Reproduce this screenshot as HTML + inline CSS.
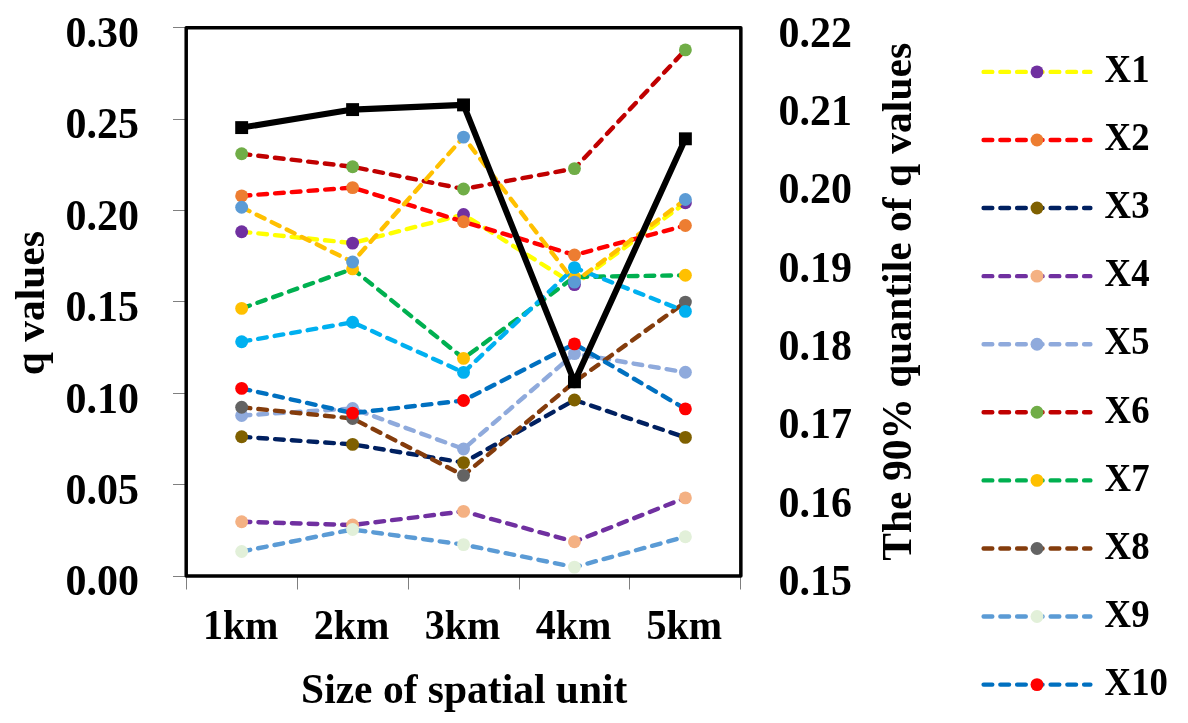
<!DOCTYPE html>
<html lang="en"><head><meta charset="utf-8"><title>q values by size of spatial unit</title>
<style>html,body{margin:0;padding:0;background:#fff}body{width:1188px;height:723px;overflow:hidden}svg{display:block}text{font-family:"Liberation Serif", "Times New Roman", serif;font-weight:bold;fill:#000}</style></head><body>
<svg width="1188" height="723" viewBox="0 0 1188 723">
<rect width="1188" height="723" fill="#fff"/>
<g stroke="#7f7f7f" stroke-width="1" fill="none">
<line x1="173" y1="576.5" x2="186.20" y2="576.5"/>
<line x1="173" y1="484.5" x2="186.20" y2="484.5"/>
<line x1="173" y1="393.5" x2="186.20" y2="393.5"/>
<line x1="173" y1="301.5" x2="186.20" y2="301.5"/>
<line x1="173" y1="210.5" x2="186.20" y2="210.5"/>
<line x1="173" y1="119.5" x2="186.20" y2="119.5"/>
<line x1="173" y1="27.5" x2="186.20" y2="27.5"/>
<line x1="186.5" y1="576.10" x2="186.5" y2="589.5"/>
<line x1="297.5" y1="576.10" x2="297.5" y2="589.5"/>
<line x1="408.5" y1="576.10" x2="408.5" y2="589.5"/>
<line x1="519.5" y1="576.10" x2="519.5" y2="589.5"/>
<line x1="629.5" y1="576.10" x2="629.5" y2="589.5"/>
<line x1="740.5" y1="576.10" x2="740.5" y2="589.5"/>
</g>
<g fill="none" stroke-linecap="round" stroke-linejoin="round" stroke-width="4.4" stroke-dasharray="8.7 8.05">
<polyline stroke="#FFFF00" points="241.66,231.70 352.60,243.10 463.53,214.50 574.46,284.60 685.39,202.80"/>
<g stroke="none" fill="#7030A0"><circle cx="241.66" cy="231.70" r="6.45"/><circle cx="352.60" cy="243.10" r="6.45"/><circle cx="463.53" cy="214.50" r="6.45"/><circle cx="574.46" cy="284.60" r="6.45"/><circle cx="685.39" cy="202.80" r="6.45"/></g>
<polyline stroke="#FF0000" points="241.66,195.90 352.60,187.60 463.53,221.70 574.46,255.00 685.39,225.50"/>
<g stroke="none" fill="#ED7D31"><circle cx="241.66" cy="195.90" r="6.45"/><circle cx="352.60" cy="187.60" r="6.45"/><circle cx="463.53" cy="221.70" r="6.45"/><circle cx="574.46" cy="255.00" r="6.45"/><circle cx="685.39" cy="225.50" r="6.45"/></g>
<polyline stroke="#002060" points="241.66,436.80 352.60,444.40 463.53,462.60 574.46,400.00 685.39,437.40"/>
<g stroke="none" fill="#7F6000"><circle cx="241.66" cy="436.80" r="6.45"/><circle cx="352.60" cy="444.40" r="6.45"/><circle cx="463.53" cy="462.60" r="6.45"/><circle cx="574.46" cy="400.00" r="6.45"/><circle cx="685.39" cy="437.40" r="6.45"/></g>
<polyline stroke="#7030A0" points="241.66,521.80 352.60,525.00 463.53,511.40 574.46,541.70 685.39,497.90"/>
<g stroke="none" fill="#F4B183"><circle cx="241.66" cy="521.80" r="6.45"/><circle cx="352.60" cy="525.00" r="6.45"/><circle cx="463.53" cy="511.40" r="6.45"/><circle cx="574.46" cy="541.70" r="6.45"/><circle cx="685.39" cy="497.90" r="6.45"/></g>
<polyline stroke="#8FAADC" points="241.66,415.50 352.60,408.50 463.53,449.00 574.46,353.60 685.39,372.30"/>
<g stroke="none" fill="#8FAADC"><circle cx="241.66" cy="415.50" r="6.45"/><circle cx="352.60" cy="408.50" r="6.45"/><circle cx="463.53" cy="449.00" r="6.45"/><circle cx="574.46" cy="353.60" r="6.45"/><circle cx="685.39" cy="372.30" r="6.45"/></g>
<polyline stroke="#C00000" points="241.66,153.80 352.60,166.80 463.53,189.00 574.46,168.60 685.39,49.90"/>
<g stroke="none" fill="#70AD47"><circle cx="241.66" cy="153.80" r="6.45"/><circle cx="352.60" cy="166.80" r="6.45"/><circle cx="463.53" cy="189.00" r="6.45"/><circle cx="574.46" cy="168.60" r="6.45"/><circle cx="685.39" cy="49.90" r="6.45"/></g>
<polyline stroke="#00B050" points="241.66,308.40 352.60,268.90 463.53,358.40 574.46,277.00 685.39,275.30"/>
<g stroke="none" fill="#FFC000"><circle cx="241.66" cy="308.40" r="6.45"/><circle cx="352.60" cy="268.90" r="6.45"/><circle cx="463.53" cy="358.40" r="6.45"/><circle cx="574.46" cy="277.00" r="6.45"/><circle cx="685.39" cy="275.30" r="6.45"/></g>
<polyline stroke="#843C0C" points="241.66,407.30 352.60,418.50 463.53,475.40 574.46,381.90 685.39,302.10"/>
<g stroke="none" fill="#636363"><circle cx="241.66" cy="407.30" r="6.45"/><circle cx="352.60" cy="418.50" r="6.45"/><circle cx="463.53" cy="475.40" r="6.45"/><circle cx="574.46" cy="381.90" r="6.45"/><circle cx="685.39" cy="302.10" r="6.45"/></g>
<polyline stroke="#5B9BD5" points="241.66,551.50 352.60,529.50 463.53,544.60 574.46,567.10 685.39,536.70"/>
<g stroke="none" fill="#E2F0D9"><circle cx="241.66" cy="551.50" r="6.45"/><circle cx="352.60" cy="529.50" r="6.45"/><circle cx="463.53" cy="544.60" r="6.45"/><circle cx="574.46" cy="567.10" r="6.45"/><circle cx="685.39" cy="536.70" r="6.45"/></g>
<polyline stroke="#0070C0" points="241.66,388.40 352.60,413.10 463.53,400.50 574.46,343.90 685.39,408.90"/>
<g stroke="none" fill="#FF0000"><circle cx="241.66" cy="388.40" r="6.45"/><circle cx="352.60" cy="413.10" r="6.45"/><circle cx="463.53" cy="400.50" r="6.45"/><circle cx="574.46" cy="343.90" r="6.45"/><circle cx="685.39" cy="408.90" r="6.45"/></g>
<polyline stroke="#00B0F0" points="241.66,341.70 352.60,322.30 463.53,372.40 574.46,267.60 685.39,311.40"/>
<g stroke="none" fill="#00B0F0"><circle cx="241.66" cy="341.70" r="6.45"/><circle cx="352.60" cy="322.30" r="6.45"/><circle cx="463.53" cy="372.40" r="6.45"/><circle cx="574.46" cy="267.60" r="6.45"/><circle cx="685.39" cy="311.40" r="6.45"/></g>
<polyline stroke="#FFC000" points="241.66,207.30 352.60,262.00 463.53,137.10 574.46,282.10 685.39,199.50"/>
<g stroke="none" fill="#5B9BD5"><circle cx="241.66" cy="207.30" r="6.45"/><circle cx="352.60" cy="262.00" r="6.45"/><circle cx="463.53" cy="137.10" r="6.45"/><circle cx="574.46" cy="282.10" r="6.45"/><circle cx="685.39" cy="199.50" r="6.45"/></g>
</g>
<polyline fill="none" stroke="#000" stroke-width="6.1" stroke-linejoin="round" stroke-linecap="round" points="241.66,127.60 352.60,109.60 463.53,104.90 574.46,381.80 685.39,138.80"/>
<g fill="#000"><rect x="235.22" y="121.15" width="12.9" height="12.9"/><rect x="346.15" y="103.15" width="12.9" height="12.9"/><rect x="457.08" y="98.45" width="12.9" height="12.9"/><rect x="568.00" y="375.35" width="12.9" height="12.9"/><rect x="678.94" y="132.35" width="12.9" height="12.9"/></g>
<rect x="186.20" y="27.70" width="554.65" height="548.40" fill="none" stroke="#000" stroke-width="3.5" stroke-linejoin="round"/>
<text transform="translate(138.90,595.30) scale(1.0120,1.0600)" font-size="41.5" text-anchor="end">0.00</text>
<text transform="translate(138.90,503.90) scale(1.0120,1.0600)" font-size="41.5" text-anchor="end">0.05</text>
<text transform="translate(138.90,412.50) scale(1.0120,1.0600)" font-size="41.5" text-anchor="end">0.10</text>
<text transform="translate(138.90,321.10) scale(1.0120,1.0600)" font-size="41.5" text-anchor="end">0.15</text>
<text transform="translate(138.90,229.70) scale(1.0120,1.0600)" font-size="41.5" text-anchor="end">0.20</text>
<text transform="translate(138.90,138.30) scale(1.0120,1.0600)" font-size="41.5" text-anchor="end">0.25</text>
<text transform="translate(138.90,46.90) scale(1.0120,1.0600)" font-size="41.5" text-anchor="end">0.30</text>
<text transform="translate(778.50,595.10) scale(1.0120,1.0600)" font-size="41.5">0.15</text>
<text transform="translate(778.50,516.76) scale(1.0120,1.0600)" font-size="41.5">0.16</text>
<text transform="translate(778.50,438.41) scale(1.0120,1.0600)" font-size="41.5">0.17</text>
<text transform="translate(778.50,360.07) scale(1.0120,1.0600)" font-size="41.5">0.18</text>
<text transform="translate(778.50,281.73) scale(1.0120,1.0600)" font-size="41.5">0.19</text>
<text transform="translate(778.50,203.39) scale(1.0120,1.0600)" font-size="41.5">0.20</text>
<text transform="translate(778.50,125.04) scale(1.0120,1.0600)" font-size="41.5">0.21</text>
<text transform="translate(778.50,46.70) scale(1.0120,1.0600)" font-size="41.5">0.22</text>
<text transform="translate(240.66,639.20) scale(1.0000,1.0500)" font-size="40" text-anchor="middle">1km</text>
<text transform="translate(351.60,639.20) scale(1.0000,1.0500)" font-size="40" text-anchor="middle">2km</text>
<text transform="translate(462.53,639.20) scale(1.0000,1.0500)" font-size="40" text-anchor="middle">3km</text>
<text transform="translate(573.46,639.20) scale(1.0000,1.0500)" font-size="40" text-anchor="middle">4km</text>
<text transform="translate(684.39,639.20) scale(1.0000,1.0500)" font-size="40" text-anchor="middle">5km</text>
<text x="464.2" y="703" font-size="41.5" text-anchor="middle">Size of spatial unit</text>
<text transform="translate(43.8,303.2) rotate(-90)" font-size="41.5" text-anchor="middle">q values</text>
<text transform="translate(911,301.8) rotate(-90)" font-size="41.5" text-anchor="middle">The 90% quantile of q values</text>
<g fill="none" stroke-linecap="round" stroke-width="4.4" stroke-dasharray="8.7 8.05">
<line x1="983.6" y1="71.90" x2="1090.4" y2="71.90" stroke="#FFFF00"/>
<circle cx="1037" cy="71.90" r="6.45" fill="#7030A0" stroke="none"/>
<line x1="983.6" y1="139.98" x2="1090.4" y2="139.98" stroke="#FF0000"/>
<circle cx="1037" cy="139.98" r="6.45" fill="#ED7D31" stroke="none"/>
<line x1="983.6" y1="208.06" x2="1090.4" y2="208.06" stroke="#002060"/>
<circle cx="1037" cy="208.06" r="6.45" fill="#7F6000" stroke="none"/>
<line x1="983.6" y1="276.14" x2="1090.4" y2="276.14" stroke="#7030A0"/>
<circle cx="1037" cy="276.14" r="6.45" fill="#F4B183" stroke="none"/>
<line x1="983.6" y1="344.22" x2="1090.4" y2="344.22" stroke="#8FAADC"/>
<circle cx="1037" cy="344.22" r="6.45" fill="#8FAADC" stroke="none"/>
<line x1="983.6" y1="412.30" x2="1090.4" y2="412.30" stroke="#C00000"/>
<circle cx="1037" cy="412.30" r="6.45" fill="#70AD47" stroke="none"/>
<line x1="983.6" y1="480.38" x2="1090.4" y2="480.38" stroke="#00B050"/>
<circle cx="1037" cy="480.38" r="6.45" fill="#FFC000" stroke="none"/>
<line x1="983.6" y1="548.46" x2="1090.4" y2="548.46" stroke="#843C0C"/>
<circle cx="1037" cy="548.46" r="6.45" fill="#636363" stroke="none"/>
<line x1="983.6" y1="616.54" x2="1090.4" y2="616.54" stroke="#5B9BD5"/>
<circle cx="1037" cy="616.54" r="6.45" fill="#E2F0D9" stroke="none"/>
<line x1="983.6" y1="684.62" x2="1090.4" y2="684.62" stroke="#0070C0"/>
<circle cx="1037" cy="684.62" r="6.45" fill="#FF0000" stroke="none"/>
</g>
<text transform="translate(1104.60,82.10) scale(1.0000,1.0750)" font-size="36.8">X1</text>
<text transform="translate(1104.60,150.18) scale(1.0000,1.0750)" font-size="36.8">X2</text>
<text transform="translate(1104.60,218.26) scale(1.0000,1.0750)" font-size="36.8">X3</text>
<text transform="translate(1104.60,286.34) scale(1.0000,1.0750)" font-size="36.8">X4</text>
<text transform="translate(1104.60,354.42) scale(1.0000,1.0750)" font-size="36.8">X5</text>
<text transform="translate(1104.60,422.50) scale(1.0000,1.0750)" font-size="36.8">X6</text>
<text transform="translate(1104.60,490.58) scale(1.0000,1.0750)" font-size="36.8">X7</text>
<text transform="translate(1104.60,558.66) scale(1.0000,1.0750)" font-size="36.8">X8</text>
<text transform="translate(1104.60,626.74) scale(1.0000,1.0750)" font-size="36.8">X9</text>
<text transform="translate(1104.60,694.82) scale(1.0000,1.0750)" font-size="36.8">X10</text>
</svg></body></html>
